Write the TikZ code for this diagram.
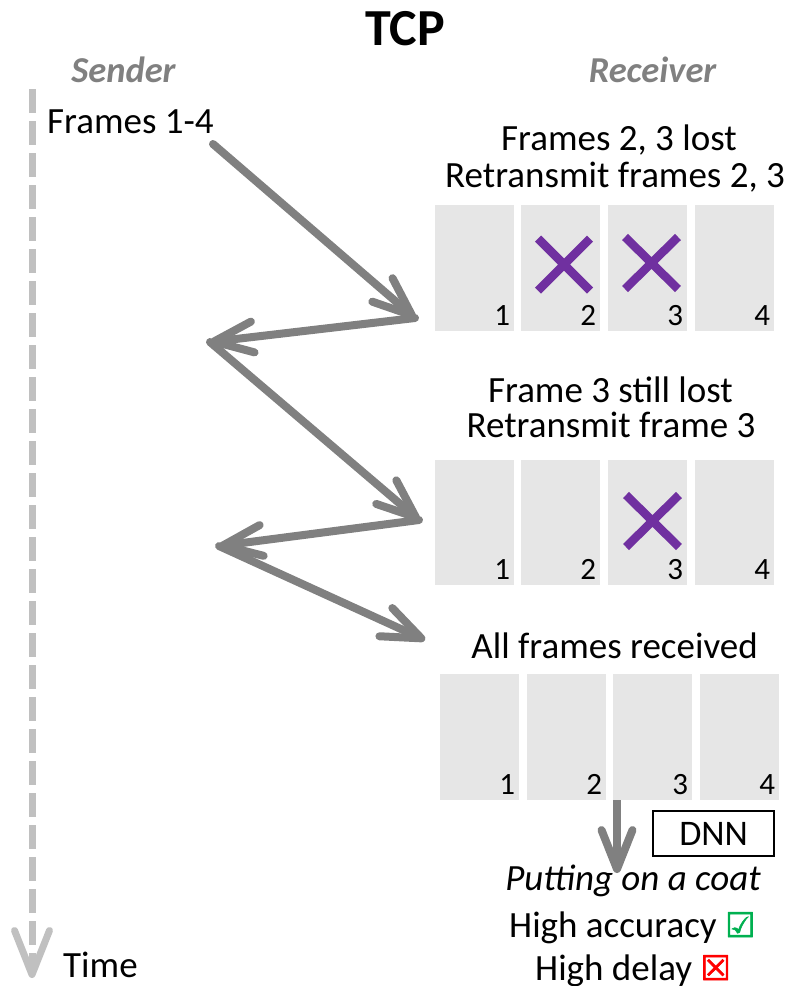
\documentclass[tikz,border=0pt]{standalone}
\usepackage{fontspec}
\setmainfont{Carlito}
\newfontfamily\symfont[FakeBold=1.6]{DejaVu Sans}
\usetikzlibrary{arrows.meta}

\definecolor{arrowgray}{HTML}{808080}
\definecolor{axisgray}{HTML}{C0C0C0}
\definecolor{framegray}{HTML}{E6E6E6}
\definecolor{lostpurple}{HTML}{7030A0}
\definecolor{okgreen}{HTML}{00B050}
\definecolor{badred}{HTML}{FF0000}

\tikzset{
  txt/.style={font=\fontsize{37}{44}\selectfont, inner sep=0pt, anchor=base},
  role/.style={txt, font=\fontsize{36.5}{44}\selectfont\bfseries\itshape, text=arrowgray},
  frbox/.style={fill=framegray, minimum width=79pt, minimum height=126pt, inner sep=0pt, anchor=north west},
  fnum/.style={font=\fontsize{31}{36}\selectfont, inner sep=0pt, anchor=base east},
  msg/.style={draw=arrowgray, line width=8pt, line cap=round,
    -{Straight Barb[length=39pt,width=31pt,round]}},
  lostmark/.style={draw=lostpurple, line width=8.5pt},
  timeaxis/.style={draw=axisgray, line width=7pt, dash pattern=on 24pt off 8pt,
    -{Straight Barb[length=44pt,width=35pt,round]}},
}

\begin{document}
\begin{tikzpicture}[x=1pt, y=-1pt]
\useasboundingbox (0,0) rectangle (794,986);

% headings
\node[font=\fontsize{52}{60}\selectfont\bfseries, inner sep=0pt, anchor=base] (title) at (405,45) {TCP};
\node[role] (sender) at (123.5,82) {Sender};
\node[role] (receiver) at (652.5,82) {Receiver};

% time axis of the sender
\coordinate (tstart) at (32,89);
\coordinate (tend) at (32,978);
\draw[timeaxis] (tstart) -- (tend);
\node[txt, anchor=base west] (time) at (63,977) {Time};

\node[txt, anchor=base west] (f14) at (47,133) {Frames 1-4};

% first delivery
\node[txt] (l1a) at (619,150) {Frames 2, 3 lost};
\node[txt] (l1b) at (615,187) {Retransmit frames 2, 3};
\foreach \i/\x in {1/435,2/521,3/608,4/695}{
  \node[frbox] (a\i) at (\x,205) {};
  \node[fnum] (an\i) at ([xshift=-4pt,yshift=6pt]a\i.south east) {\i};
}
\draw[lostmark] (538,238.5) -- (590,290.5) (538,290.5) -- (590,238.5);
\draw[lostmark] (625,237) -- (678,289) (625,289) -- (678,237);

% second delivery
\node[txt] (l2a) at (610.5,402) {Frame 3 still lost};
\node[txt] (l2b) at (611,437) {Retransmit frame 3};
\foreach \i/\x in {1/435,2/521,3/608,4/695}{
  \node[frbox, minimum height=125pt] (b\i) at (\x,460) {};
  \node[fnum] (bn\i) at ([xshift=-4pt,yshift=6pt]b\i.south east) {\i};
}
\draw[lostmark] (626,495) -- (679,547) (626,547) -- (679,495);

% third delivery
\node[txt] (l3) at (614.5,658) {All frames received};
\foreach \i/\x in {1/440,2/527,3/613,4/700}{
  \node[frbox] (c\i) at (\x,674) {};
  \node[fnum] (cn\i) at ([xshift=-4pt,yshift=6pt]c\i.south east) {\i};
}

% messages between sender and receiver
\coordinate (s1) at (213,144);
\coordinate (r1) at (415,318);
\coordinate (s2) at (210,342);
\coordinate (r2) at (419,520);
\coordinate (s3) at (219,546);
\coordinate (r3) at (425,640);
\draw[msg] (s1) -- (r1);
\draw[msg] (r1) -- (s2);
\draw[msg] (s2) -- (r2);
\draw[msg] (r2) -- (s3);
\draw[msg] (s3) -- (r3);

% inference on the complete frames
\node[draw, line width=2.2pt, minimum width=121pt, minimum height=45pt, inner sep=0pt,
      font=\fontsize{36}{44}\selectfont, anchor=north west] (dnn) at (652,810) {DNN};
\coordinate (infer) at (617,873);
\draw[msg, line cap=butt] (c3.south west -| infer) -- (infer);

\node[txt, font=\fontsize{37}{44}\selectfont\itshape] (task) at (633,890) {Putting on a coat};
\node[txt, anchor=base west] (acc) at (509,937)
  {High accuracy \textcolor{okgreen}{\symfont\fontsize{34}{40}\selectfont ☑}};
\node[txt, anchor=base west] (delay) at (535,980)
  {High delay \textcolor{badred}{\symfont\fontsize{34}{40}\selectfont ☒}};
\end{tikzpicture}
\end{document}
